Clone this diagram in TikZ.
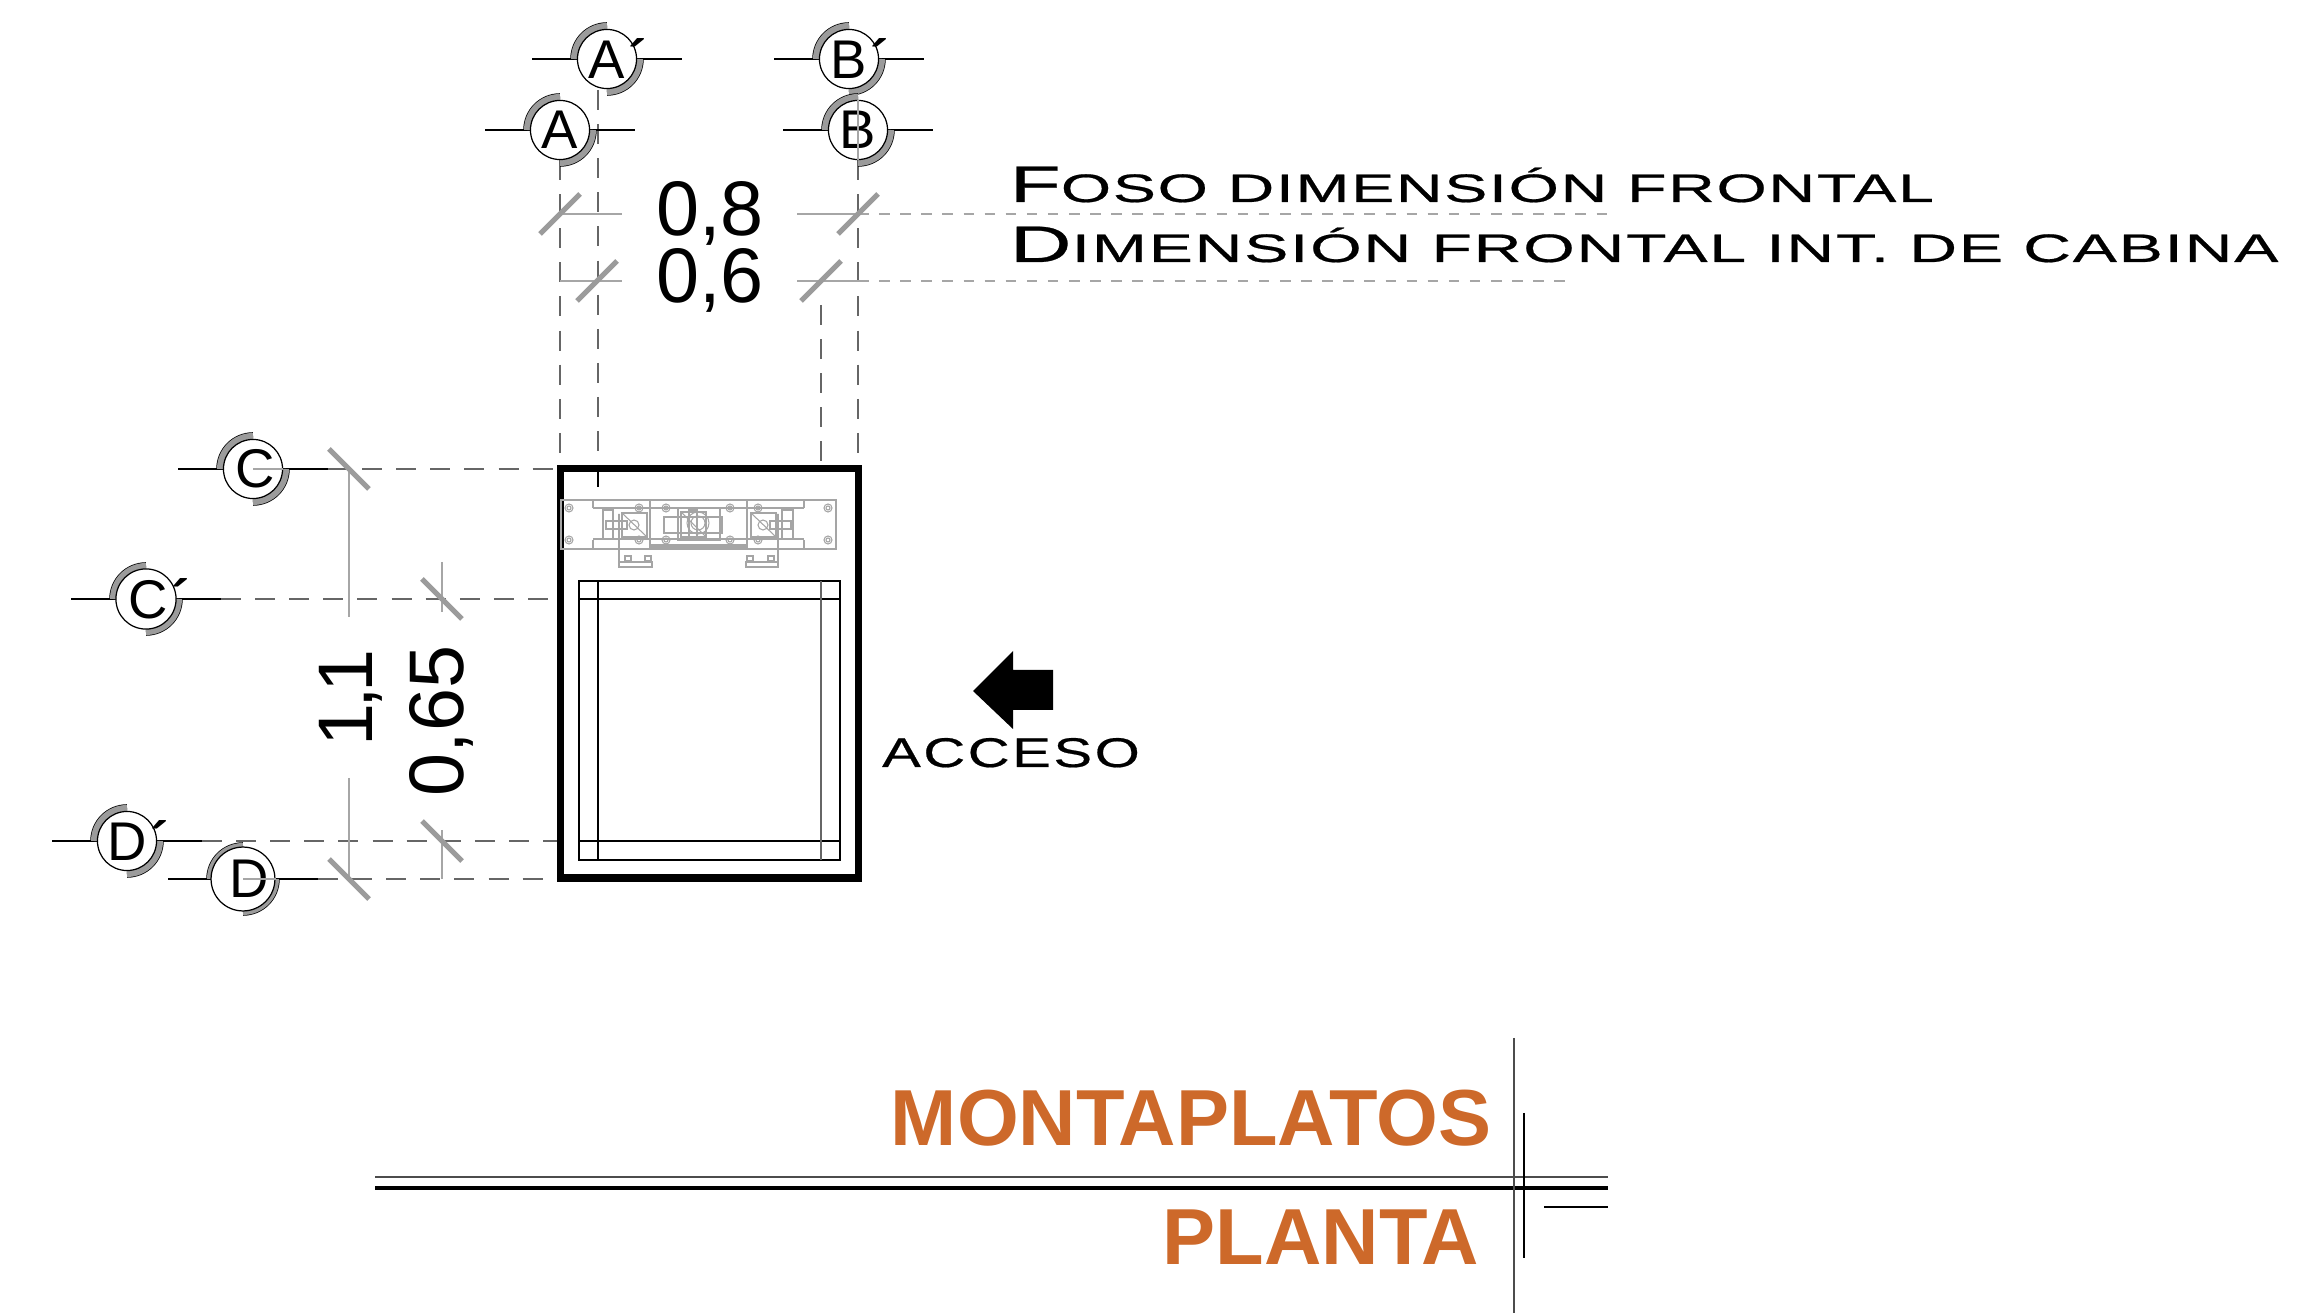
\documentclass[tikz,border=0pt]{standalone}
\usepackage{fontspec}
\setmainfont{Liberation Sans}
\newfontfamily\widefont[FakeStretch=1.63,FakeBold=0.5,LetterSpace=4]{Liberation Sans}
\newfontfamily\accessfont[FakeStretch=1.4,FakeBold=0.5,LetterSpace=6]{Liberation Sans}
\definecolor{rustorange}{RGB}{205,105,42}
\definecolor{tickgray}{RGB}{155,155,155}
\definecolor{mechgray}{RGB}{165,165,165}
\newcommand{\capsline}[2]{{\fontsize{14.6}{14.6}\selectfont #1}{\fontsize{11.3}{11.3}\selectfont\MakeUppercase{#2}}}
\newcommand{\primemark}{\rlap{\kern1pt\bfseries ´}}
\tikzset{
  bubble/.style={circle,draw=black,fill=white,line width=0.35pt,minimum size=16.8pt,inner sep=0pt,font=\fontsize{15.5}{15.5}\selectfont},
  dimtext/.style={font=\fontsize{22}{22}\selectfont,inner sep=0pt},
  tick/.style={draw=tickgray,line width=1.5pt},
  axis/.style={line width=0.3pt,dash pattern=on 5.7pt off 4pt,draw=black!60},
  faint/.style={line width=0.3pt,draw=black!35},
  cutline/.style={line width=0.45pt,draw=black},
  mech/.style={draw=mechgray,line width=0.3pt},
  note/.style={font=\widefont,anchor=base west,inner sep=0pt},
  heading/.style={font=\fontsize{22.6}{22.6}\selectfont\bfseries,text=rustorange,inner sep=0pt},
}
\begin{document}
\begin{tikzpicture}[x=0.01cm,y=-0.01cm]
\useasboundingbox (0,0) rectangle (2305,1313);

% axis lines
\foreach \x/\ya in {560/160,598/90,858/160,821/305}
\draw[axis] (\x,\ya) -- (\x,465);
\draw[faint] (560,214) -- (622,214);
\draw[faint] (797,214) -- (858,214);
\draw[faint] (560,281) -- (622,281);
\draw[faint] (797,281) -- (858,281);
\draw[faint,dashed] (858,214) -- (1608,214);
\draw[faint,dashed] (858,281) -- (1570,281);
\foreach \y/\xa in {469/328,599/221,841/202,879/318}
\draw[axis] (\xa,\y) -- (557,\y);
\draw[faint] (349,469) -- (349,617);
\draw[faint] (349,778) -- (349,879);
\draw[faint] (442,562) -- (442,612);
\draw[faint] (442,830) -- (442,879);

% ticks
\foreach \x/\y in {560/214,858/214,597/281,821/281}
\draw[tick] (\x-20,\y+20) -- (\x+20,\y-20);
\foreach \x/\y in {349/469,349/879,442/599,442/841}
\draw[tick] (\x-20,\y-20) -- (\x+20,\y+20);

% section marks
\foreach \name/\txt/\x/\y in {ap/A\primemark/607/59,a/A/560/130,bp/B\primemark/849/59,b/B/858/130,c/\kern1.5pt C/253/469,cp/\kern1.5pt C\primemark/146/599,dp/D\primemark/127/841,d/\kern3.5pt D/243/879}{
  \draw[cutline] (\x-75,\y) -- (\x+75,\y);
  \draw[black,line width=0.075cm] (\x-33,\y) arc[start angle=180,end angle=90,radius=.33cm];
  \draw[black,line width=0.075cm] (\x+33,\y) arc[start angle=0,end angle=-90,radius=.33cm];
  \draw[tickgray,line width=0.065cm] (\x-32.75,\y) arc[start angle=180,end angle=90,radius=.3275cm];
  \draw[tickgray,line width=0.065cm] (\x+32.75,\y) arc[start angle=0,end angle=-90,radius=.3275cm];
  \node[bubble] (\name) at (\x,\y) {\txt};
}
\draw[faint] (b.north) -- (b.south);
\draw[faint] (c.center) -- (c.east);
\draw[faint] (d.center) -- (d.east);

% shaft
\draw[line width=2pt] (560.5,468.5) rectangle (858.5,878);
\draw[line width=0.4pt] (579,581) rectangle (840,860);
\draw[line width=0.4pt] (579,599) -- (840,599);
\draw[line width=0.4pt] (579,841) -- (840,841);
\draw[line width=0.4pt] (598,581) -- (598,860);
\draw[line width=0.4pt,draw=black!60] (821,581) -- (821,860);
\draw[line width=0.4pt] (598,465) -- (598,487);

% machine
\draw[mech] (561,500) rectangle (836,549);
\draw[mech] (593,508) -- (593,500) (804,508) -- (804,500);
\draw[mech] (593,540) -- (593,549) (804,540) -- (804,549);
\draw[mech] (593,508) -- (804,508);
\draw[mech] (593,539) -- (804,539);
\draw[mech] (650,500) rectangle (747,547);
\draw[mech] (650,545) -- (747,545);
\draw[mech] (678,508) rectangle (720,540);
\draw[mech] (664,517) rectangle (722,533);
\draw[mech] (681,512) rectangle (706,537);
\draw[mech] (689,510) rectangle (697,539);
\draw[mech] (698,523) circle (11);
\draw[mech] (698,523) circle (7);
\draw[mech] (681,512) -- (706,537);
\foreach \xb/\xc in {622/634,751/763}{
  \draw[mech] (\xb,513) rectangle (\xb+25,537);
  \draw[mech] (\xc,525) circle (5);
  \draw[mech] (\xb,513) -- (\xb+25,537);
}
\draw[mech] (619,514) -- (619,562) -- (652,562) -- (652,567) -- (619,567) -- cycle;
\draw[mech] (778,514) -- (778,562) -- (746,562) -- (746,567) -- (778,567) -- cycle;
\draw[mech] (606,521) rectangle (627,529);
\draw[mech] (770,521) rectangle (791,529);
\draw[mech] (603,510) rectangle (613,539);
\draw[mech] (782,510) rectangle (793,539);
\foreach \x in {625,645,747,768}
\draw[mech] (\x,556) rectangle (\x+6,561);
\foreach \x in {569,639,666,730,758,828}{
  \draw[mech] (\x,508) circle (4);
  \draw[mech] (\x,508) circle (2);
  \draw[mech] (\x,540) circle (4);
  \draw[mech] (\x,540) circle (2);
}

% labels
\node[dimtext] (dimA) at (710,213) {0,8};
\node[dimtext] (dimB) at (710,280) {0,6};
\node[dimtext,rotate=90] (dimC) at (351,698) {1\kern-1.5pt,\kern-1.5pt 1};
\node[dimtext,rotate=90] (dimD) at (441,721) {0,65};
\node[note] (foso) at (1009,202) {\capsline{F}{oso dimensión frontal}};
\node[note,xscale=1.025] (cabina) at (1009,262) {\capsline{D}{imensión frontal int. de cabina}};

% access
\fill[black] (973,691) -- (1013,651) -- (1013,670) -- (1053,670) -- (1053,710) -- (1013,710) -- (1013,729) -- cycle;
\node[font=\accessfont\fontsize{11.8}{11.8}\selectfont,inner sep=0pt,anchor=base] (acceso) at (1011,767) {ACCESO};

% title block
\node[heading,anchor=east] (montaplatos) at (1492,1118) {MONTAPLATOS};
\node[heading,anchor=east] (planta) at (1480,1237) {PLANTA};
\draw[line width=0.4pt,draw=black!70] (375,1177) -- (1608,1177);
\draw[line width=1pt] (375,1188) -- (1608,1188);
\draw[line width=0.4pt] (1544,1207) -- (1608,1207);
\draw[line width=0.4pt,draw=black!70] (1514,1038) -- (1514,1313);
\draw[line width=0.7pt] (1524,1113) -- (1524,1258);
\end{tikzpicture}
\end{document}
